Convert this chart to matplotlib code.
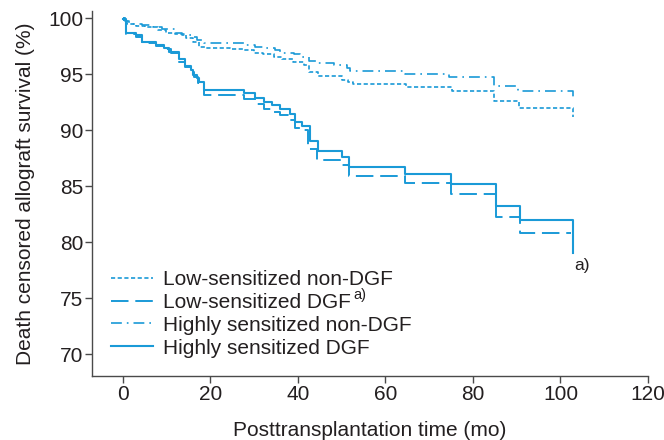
import matplotlib
matplotlib.use('Agg')
import matplotlib.pyplot as plt

plt.rcParams['font.family'] = ['Liberation Sans', 'DejaVu Sans']

# Kaplan-Meier steps (months, % survival)
low_non_t = [0, 0.5, 1, 3, 5, 8, 10, 12, 14.5, 16, 17.5, 19, 24.6, 27.7, 30, 32, 34.5, 36.5,
             39, 41.5, 42.5, 44.5, 50, 51.5, 52.5, 64.7, 75.3, 84.9, 90.6, 102.9]
low_non_s = [100, 99.7, 99.5, 99.3, 99.2, 98.9, 98.7, 98.6, 98.2, 97.9, 97.4, 97.3, 97.2, 97.1,
             96.9, 96.8, 96.5, 96.3, 96.1, 95.8, 95.2, 94.8, 94.5, 94.3, 94.15, 93.87, 93.5,
             92.6, 91.93, 91.2]

low_dgf_t = [0, 0.7, 3.0, 4.5, 7.5, 9.6, 11.0, 12.8, 14.2, 15.5, 16.3, 17.2, 18.5, 27.7, 30.3,
             32.2, 34.5, 36.0, 37.8, 39.4, 41.0, 42.3, 44.3, 49.8, 51.6, 64.5, 75.0, 85.3, 90.8,
             102.5]
low_dgf_s = [99.8, 98.6, 98.3, 97.8, 97.5, 97.2, 96.9, 96.1, 95.6, 95.2, 94.7, 94.2, 93.1, 92.8,
             92.3, 91.9, 91.6, 91.3, 90.9, 90.2, 90.0, 88.3, 87.3, 86.9, 85.9, 85.3, 84.3, 82.2,
             80.8, 80.8]

high_non_t = [0, 0.5, 1.5, 4.5, 7, 9, 12, 13.5, 15.5, 17, 18.5, 27.7, 30.3, 32.2, 34.9, 36,
              39.1, 40.6, 42.5, 44.4, 48.2, 51.3, 52, 64.5, 74.6, 84.9, 90.4, 102.9]
high_non_s = [100, 99.7, 99.5, 99.4, 99.2, 99.0, 98.7, 98.5, 98.3, 98.0, 97.8, 97.6, 97.4, 97.3,
              97.1, 96.9, 96.8, 96.55, 96.2, 96.0, 95.8, 95.5, 95.27, 95.0, 94.76, 93.93, 93.48,
              92.8]

high_dgf_t = [0, 0.7, 3.0, 4.5, 7.5, 9.4, 10.6, 12.8, 14.2, 15.5, 16.0, 17.0, 17.5, 18.5, 27.7,
              30.3, 32.2, 34.1, 36.0, 38.3, 39.4, 40.9, 42.8, 44.5, 50.0, 51.6, 64.5, 75.0, 85.3,
              90.8, 102.9]
high_dgf_s = [99.9, 98.7, 98.5, 97.9, 97.6, 97.3, 97.0, 96.3, 95.7, 95.4, 94.9, 94.6, 94.3, 93.6,
              93.3, 92.9, 92.5, 92.2, 91.9, 91.4, 90.7, 90.4, 89.0, 88.1, 87.6, 86.7, 86.1, 85.2,
              83.2, 82.0, 79.0]

labels = ['Low-sensitized non-DGF', 'Low-sensitized DGF',
          'Highly sensitized non-DGF', 'Highly sensitized DGF']

blue = '#1a9ad7'
txt = '#231f20'

fig = plt.figure(figsize=(6.64, 4.4), dpi=100)
ax = fig.add_axes([0.1386, 0.1455, 0.8374, 0.8286])

ax.step(low_non_t, low_non_s, where='post', color=blue, lw=1.2, linestyle=(0, (2.5, 1.5)), label=labels[0])
ax.step(low_dgf_t, low_dgf_s, where='post', color=blue, lw=1.4, linestyle=(0, (9, 3.5)), label=labels[1])
ax.step(high_non_t, high_non_s, where='post', color=blue, lw=1.2, linestyle=(0, (6.5, 3, 1, 3)), label=labels[2])
ax.step(high_dgf_t, high_dgf_s, where='post', color=blue, lw=1.5, label=labels[3])

ax.text(105, 77.9, 'a)', fontsize=12.5, color=txt, ha='center', va='center')

ax.set_xlim(-7, 120)
ax.set_ylim(68.04, 100.59)
ax.set_xticks(range(0, 121, 20))
ax.set_yticks(range(70, 101, 5))
ax.spines['top'].set_visible(False)
ax.spines['right'].set_visible(False)
for s in ['left', 'bottom']:
    ax.spines[s].set_color('#4a4a4a')
    ax.spines[s].set_linewidth(1.0)
ax.tick_params(direction='out', length=5, width=1.0, color='#4a4a4a', labelsize=15,
               labelcolor=txt, pad=1.5)

ax.set_xlabel('Posttransplantation time (mo)', fontsize=15, color=txt, labelpad=12)
ax.set_ylabel('Death censored allograft survival (%)', fontsize=15, color=txt, labelpad=9)

leg = ax.legend(loc='upper left', bbox_to_anchor=(0.034, 0.290), frameon=False, fontsize=15,
                handlelength=2.0, handletextpad=0.5, labelspacing=0.18, borderpad=0,
                borderaxespad=0, labelcolor=txt)

# superscript "a)" after the second legend entry
fig.canvas.draw()
bb = leg.get_texts()[1].get_window_extent()
fx, fy = fig.transFigure.inverted().transform((bb.x1 + 2, bb.y1 - 2))
fig.text(fx, fy, 'a)', fontsize=10.5, color=txt, ha='left', va='center')

fig.savefig('out.png', dpi=100)
